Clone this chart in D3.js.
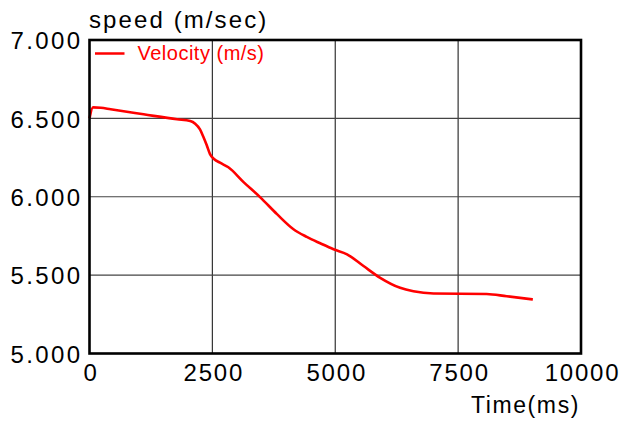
<!DOCTYPE html>
<html>
<head>
<meta charset="utf-8">
<script src="https://cdn.jsdelivr.net/npm/d3@7"></script>
<style>
  html, body { margin: 0; padding: 0; background: #fff; }
  svg { display: block; }
  text { font-family: "Liberation Sans", Arial, sans-serif; }
</style>
</head>
<body>
<svg id="chart" width="621" height="421"></svg>
<script>
// ---- data ----
const timeMs = [0, 70, 230, 430, 1100, 1780, 2050, 2150, 2248, 2316, 2384, 2452, 2533, 2655, 2825, 3140, 3475, 3815, 4150, 4420, 4695, 4965, 5240, 5575, 5915, 6320, 6590, 7000, 8080, 8490, 9020];
const velocity = [6.500, 6.570, 6.568, 6.558, 6.526, 6.494, 6.483, 6.466, 6.430, 6.383, 6.330, 6.272, 6.241, 6.217, 6.188, 6.092, 5.996, 5.889, 5.793, 5.744, 5.703, 5.665, 5.633, 5.558, 5.483, 5.419, 5.397, 5.383, 5.380, 5.365, 5.345];
const xTicks = [0, 2500, 5000, 7500, 10000];
const yTicks = [5.0, 5.5, 6.0, 6.5, 7.0];
const seriesName = "Velocity (m/s)";
const yTitle = "speed (m/sec)";
const xTitle = "Time(ms)";

// ---- layout ----
const svg = d3.select("#chart");
const L = 89.5, R = 581, T = 40, B = 353.5;
const x = d3.scaleLinear().domain([0, 10000]).range([L, R]);
const y = d3.scaleLinear().domain([5, 7]).range([B, T]);

// grid
const grid = svg.append("g");
grid.selectAll("line.v").data(xTicks.slice(1, -1)).join("line")
  .attr("x1", d => x(d)).attr("x2", d => x(d))
  .attr("y1", T).attr("y2", B)
  .attr("stroke", "#333").attr("stroke-width", 1.2);
grid.selectAll("line.h").data(yTicks.slice(1, -1)).join("line")
  .attr("x1", L).attr("x2", R)
  .attr("y1", d => y(d)).attr("y2", d => y(d))
  .attr("stroke", "#444").attr("stroke-width", 1.2);

// axes (labels only)
const xAxis = d3.axisBottom(x).tickValues(xTicks).tickSize(0).tickPadding(0).tickFormat(d3.format("d"));
const gx = svg.append("g").attr("transform", `translate(0,${B})`).call(xAxis);
gx.select(".domain").remove();
gx.selectAll("text")
  .attr("y", 27).attr("dy", 0)
  .attr("font-size", 24).attr("fill", "#000")
  .style("letter-spacing", "1.8px")
  .attr("dx", 1)
  .style("font-family", "'Liberation Sans', Arial, sans-serif");

const yAxis = d3.axisLeft(y).tickValues(yTicks).tickSize(0).tickPadding(0).tickFormat(d3.format(".3f"));
const gy = svg.append("g").attr("transform", `translate(${L},0)`).call(yAxis);
gy.select(".domain").remove();
gy.selectAll("text")
  .attr("x", -7).attr("dy", "0.36em")
  .attr("font-size", 24).attr("fill", "#000")
  .style("letter-spacing", "2.4px")
  .style("font-family", "'Liberation Sans', Arial, sans-serif");

// titles
svg.append("text").attr("x", 89).attr("y", 28)
  .attr("font-size", 24).style("letter-spacing", "2.1px").attr("fill", "#000")
  .text(yTitle);
svg.append("text").attr("x", 580).attr("y", 413).attr("text-anchor", "end")
  .attr("font-size", 23).style("letter-spacing", "1.6px").attr("fill", "#000")
  .text(xTitle);

// series line
const data = timeMs.map((t, i) => [t, velocity[i]]);
const line = d3.line().x(d => x(d[0])).y(d => y(d[1])).curve(d3.curveMonotoneX);
svg.append("path").datum(data)
  .attr("d", line)
  .attr("fill", "none").attr("stroke", "#ff0000").attr("stroke-width", 2.6)
  .attr("stroke-linejoin", "round");

// legend
svg.append("line").attr("x1", 95).attr("x2", 124.5).attr("y1", 53.5).attr("y2", 53.5)
  .attr("stroke", "#ff0000").attr("stroke-width", 2.5);
svg.append("text").attr("x", 137.5).attr("y", 60)
  .attr("font-size", 20).style("letter-spacing", "0.5px").attr("fill", "#ff0000")
  .text(seriesName);

// frame
svg.append("rect").attr("x", L).attr("y", T).attr("width", R - L).attr("height", B - T)
  .attr("fill", "none").attr("stroke", "#000").attr("stroke-width", 2.6);
</script>
</body>
</html>
